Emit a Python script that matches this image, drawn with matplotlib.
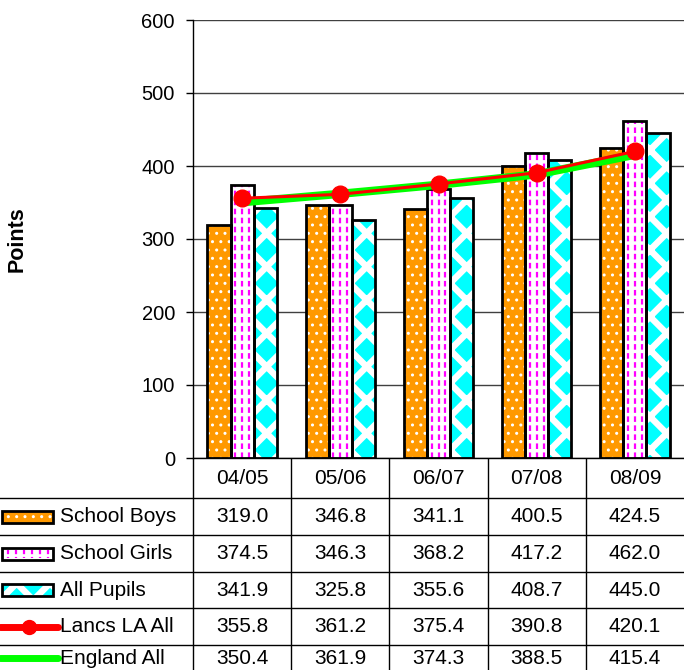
import matplotlib
matplotlib.use("Agg")
import matplotlib.pyplot as plt
import numpy as np
from matplotlib.patches import Rectangle

plt.rcParams['font.family'] = ['Liberation Sans', 'DejaVu Sans']
plt.rcParams['lines.scale_dashes'] = False

# data
years = ['04/05', '05/06', '06/07', '07/08', '08/09']
boys = [319.0, 346.8, 341.1, 400.5, 424.5]
girls = [374.5, 346.3, 368.2, 417.2, 462.0]
pupils = [341.9, 325.8, 355.6, 408.7, 445.0]
lancs = [355.8, 361.2, 375.4, 390.8, 420.1]
england = [350.4, 361.9, 374.3, 388.5, 415.4]
row_names = ['School Boys', 'School Girls', 'All Pupils', 'Lancs LA All', 'England All']

MAG = '#FF00FF'
FS = 15

W, H = 684, 670
fig = plt.figure(figsize=(W / 100, H / 100), dpi=100)

# plot area
L, R, T, B = 193, 684, 20, 458
ax = fig.add_axes([L / W, (H - B) / H, (R - L) / W, (B - T) / H])
x = np.arange(len(years))
bw = 0.235

# bar styles: (values, face, hatch colour, hatch, hatch lw)
styles = [
    (boys, '#FF9900', 'white', '..', 1.0),
    (girls, 'white', MAG, None, 1.0),
    (pupils, '#00FFFF', 'white', 'x', 4.6),
]
for k, (vals, fc, hc, hatch, hlw) in enumerate(styles):
    with plt.rc_context({'hatch.linewidth': hlw}):
        bars = ax.bar(x + (k - 1) * bw, vals, bw, color=fc, edgecolor=hc, hatch=hatch, linewidth=0, zorder=2)
    if k == 1:
        # dashed magenta stripes inside the girls bars
        for p in bars:
            for f in (0.2, 0.5, 0.8):
                ax.plot([p.get_x() + f * p.get_width()] * 2, [0, p.get_height()],
                        color=MAG, lw=1.6, dashes=(4, 2.5), zorder=2.5)
    ax.bar(x + (k - 1) * bw, vals, bw, fill=False, edgecolor='black', linewidth=2, zorder=3)

ax.plot(x, england, color='#00FF00', lw=6, zorder=4, solid_capstyle='round')
ax.plot(x, lancs, color='#FF0000', lw=2.2, marker='o', ms=12, zorder=5)

ax.set_xlim(-0.5, 4.5)
ax.set_ylim(0, 600)
ax.set_yticks(range(0, 601, 100))
ax.tick_params(axis='y', labelsize=14.5, length=5, width=1, pad=8, direction='out')
ax.set_xticks([])
ax.grid(axis='y', color='#404040', lw=1, zorder=0)
for s in ['top', 'right']:
    ax.spines[s].set_visible(False)
ax.spines['left'].set_linewidth(1)
ax.spines['bottom'].set_linewidth(1)
fig.text(17 / W, 1 - 239 / H, 'Points', rotation=90, ha='center', va='center',
         fontsize=15.5, fontweight='bold')

# data table under the chart, in pixel coordinates
tab = fig.add_axes([0, 0, 1, (H - B) / H])
tab.set_xlim(0, W)
tab.set_ylim(H - B, 0)
tab.axis('off')

colw = (R - L) / len(years)
row_edges = [0, 40, 77, 114, 150, 187]
row_mid = [20, 58.5, 95.5, 132, 168.5, 200]

for k in range(len(years)):
    tab.plot([L + colw * k] * 2, [0, H - B], color='black', lw=1)
for y in row_edges[1:]:
    tab.plot([0, W], [y, y], color='black', lw=1)

table_vals = [boys, girls, pupils, lancs, england]
for k, yr in enumerate(years):
    cx = L + colw * (k + 0.5)
    tab.text(cx, row_mid[0], yr, ha='center', va='center', fontsize=FS)
    for r, vals in enumerate(table_vals):
        tab.text(cx, row_mid[r + 1], f'{vals[k]:.1f}', ha='center', va='center', fontsize=FS)

# legend keys in first column
for r, (vals, fc, hc, hatch, hlw) in enumerate(styles):
    ym = row_mid[r + 1]
    with plt.rc_context({'hatch.linewidth': hlw}):
        tab.add_patch(Rectangle((2, ym - 6), 51, 12, facecolor=fc, edgecolor=hc, hatch=hatch, lw=0))
    if r == 1:
        for sx in np.arange(8, 53, 8):
            tab.plot([sx, sx], [ym - 4, ym + 4], color=MAG, lw=1.6, dashes=(3, 2))
    tab.add_patch(Rectangle((2, ym - 6), 51, 12, fill=False, edgecolor='black', lw=2))
tab.plot([0, 58], [row_mid[4]] * 2, color='#FF0000', lw=5, solid_capstyle='round')
tab.plot([29], [row_mid[4]], 'o', color='#FF0000', ms=10)
tab.plot([0, 58], [row_mid[5]] * 2, color='#00FF00', lw=5, solid_capstyle='round')
for r, name in enumerate(row_names):
    tab.text(60, row_mid[r + 1], name, ha='left', va='center', fontsize=FS)

fig.savefig('out.png', dpi=100)
